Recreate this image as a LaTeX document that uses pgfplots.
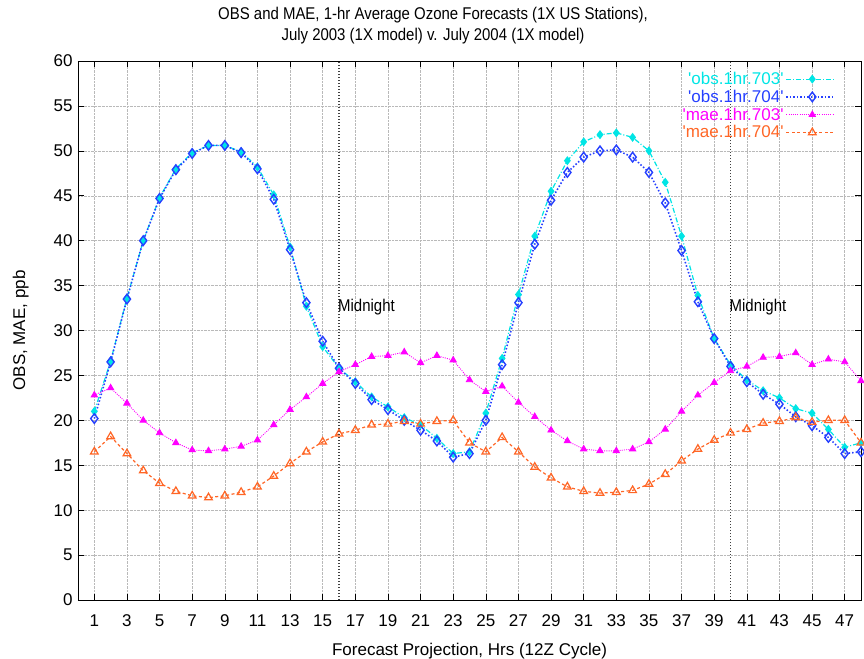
\documentclass[border=0pt]{standalone}
\usepackage{pgfplots}
\pgfplotsset{compat=1.18}
\usepackage{fontspec}
\setmainfont{Liberation Sans}
\newfontfamily\narrow{Liberation Sans}[FakeStretch=0.88]
\definecolor{c703}{rgb}{0.00,0.90,0.90}
\definecolor{c704}{rgb}{0.15,0.25,1.00}
\definecolor{m703}{rgb}{1.00,0.00,1.00}
\definecolor{m704}{rgb}{1.00,0.40,0.15}
\newcommand\q{\textquotesingle}
\newcommand\f{\fontsize{17bp}{20bp}\selectfont}

\pgfplotstableread{
x obs703 obs704 mae703 mae704
1 21.0 20.2 22.8 16.5
2 26.6 26.5 23.6 18.2
3 33.6 33.5 21.9 16.3
4 40.0 40.0 20.0 14.4
5 44.8 44.7 18.6 13.0
6 48.0 47.9 17.5 12.1
7 49.8 49.7 16.7 11.6
8 50.6 50.6 16.6 11.4
9 50.6 50.6 16.8 11.6
10 49.9 49.8 17.1 12.0
11 48.2 48.0 17.8 12.6
12 45.1 44.6 19.5 13.8
13 39.3 39.0 21.2 15.2
14 32.7 33.1 22.6 16.5
15 28.2 28.8 24.1 17.6
16 25.8 25.8 25.4 18.5
17 24.3 24.1 26.2 18.9
18 22.6 22.3 27.1 19.5
19 21.5 21.2 27.2 19.6
20 20.3 20.0 27.6 19.9
21 19.5 18.9 26.4 19.6
22 18.0 17.7 27.2 19.9
23 16.3 15.9 26.7 20.0
24 16.5 16.3 24.5 17.5
25 20.8 20.0 23.2 16.5
26 26.9 26.2 23.8 18.1
27 34.0 33.1 22.0 16.5
28 40.5 39.6 20.4 14.8
29 45.5 44.5 18.9 13.6
30 48.9 47.6 17.7 12.6
31 51.0 49.3 16.8 12.1
32 51.8 50.0 16.6 11.9
33 52.0 50.1 16.6 12.0
34 51.5 49.3 16.8 12.2
35 50.0 47.6 17.6 12.9
36 46.5 44.2 19.0 14.0
37 40.5 38.9 21.0 15.5
38 33.9 33.2 22.8 16.8
39 29.1 29.1 24.2 17.8
40 26.2 26.0 25.5 18.6
41 24.5 24.3 26.0 19.0
42 23.3 22.9 27.0 19.7
43 22.5 21.8 27.1 19.9
44 21.3 20.4 27.5 20.3
45 20.8 19.4 26.2 19.8
46 19.0 18.1 26.8 20.0
47 17.0 16.3 26.5 20.0
48 17.5 16.5 24.4 17.5
}\data

\begin{document}
\begin{tikzpicture}[font=\f]
\begin{axis}[
  at={(0,0)}, anchor=south west,
  scale only axis,
  width=783bp, height=539bp,
  xmin=0, xmax=48, ymin=0, ymax=60,
  xtick={1,3,...,47},
  ytick={0,5,...,60},
  tick align=inside,
  major tick length=6bp,
  tick style={black, line width=0.6bp},
  axis line style={black, line width=0.8bp},
  grid=major,
  grid style={densely dotted, gray!55, line width=0.5bp},
  /pgf/number format/assume math mode=true,
  tick label style={font=\f},
  xticklabel style={yshift=-11bp},
  yticklabel style={xshift=-2bp},
  xlabel={Forecast Projection, Hrs (12Z Cycle)},
  ylabel={OBS, MAE, ppb},
  label style={font=\f},
  xlabel style={yshift=-10bp},
  ylabel style={yshift=18bp},
  legend plot pos=right,
  legend cell align=right,
  legend style={at={(0.971,0.987)}, anchor=north east, draw=none, fill=none,
    font=\f, row sep=0bp,
    /tikz/every even column/.append style={column sep=10bp}},
  legend image code/.code={
    \draw[#1] (0bp,0bp) -- (48bp,0bp);
    \draw[#1, solid] plot coordinates {(26bp,0bp)};
  },
]
\addplot[color=c703, line width=1.2bp, dash pattern=on 5bp off 2bp on 1bp off 2bp,
  mark=diamond*, mark size=3.6bp, mark options={solid, fill=c703, draw=c703}]
  table[x=x, y=obs703] {\data};
\addlegendentry{\textcolor{c703}{\q obs.1hr.703\q}}
\addplot[color=c704, line width=1.6bp, dash pattern=on 1.5bp off 2bp,
  mark=diamond, mark size=4.8bp, mark options={solid, line width=1.4bp}]
  table[x=x, y=obs704] {\data};
\addlegendentry{\textcolor{c704}{\q obs.1hr.704\q}}
\addplot[color=m703, line width=0.9bp, dash pattern=on 1bp off 1.2bp,
  mark=triangle*, mark size=3.6bp, mark options={solid, fill=m703}]
  table[x=x, y=mae703] {\data};
\addlegendentry{\textcolor{m703}{\q mae.1hr.703\q}}
\addplot[color=m704, line width=1.2bp, dash pattern=on 3bp off 2.5bp,
  mark=triangle, mark size=4.4bp, mark options={solid, line width=1.2bp}]
  table[x=x, y=mae704] {\data};
\addlegendentry{\textcolor{m704}{\q mae.1hr.704\q}}

\addplot[forget plot, black!75, line width=1.5bp, dash pattern=on 1.5bp off 1.5bp]
  coordinates {(16,0) (16,60)};
\addplot[forget plot, black!75, line width=1.5bp, dash pattern=on 1.5bp off 1.5bp]
  coordinates {(40,0) (40,60)};
\node[anchor=west, inner sep=0bp, xshift=-1bp, font=\f\narrow] at (axis cs:16,32.6) {Midnight};
\node[anchor=west, inner sep=0bp, xshift=-1bp, font=\f\narrow] at (axis cs:40,32.6) {Midnight};
\end{axis}
\node[align=center, font=\f\narrow, inner sep=0pt] at (355bp,574bp)
  {OBS and MAE, 1-hr Average Ozone Forecasts (1X US Stations),\\[1bp]
   July 2003 (1X model) v. July 2004 (1X model)};
\pgfresetboundingbox
\path[use as bounding box] (-78bp,-59bp) rectangle (786bp,600bp);
\end{tikzpicture}
\end{document}
